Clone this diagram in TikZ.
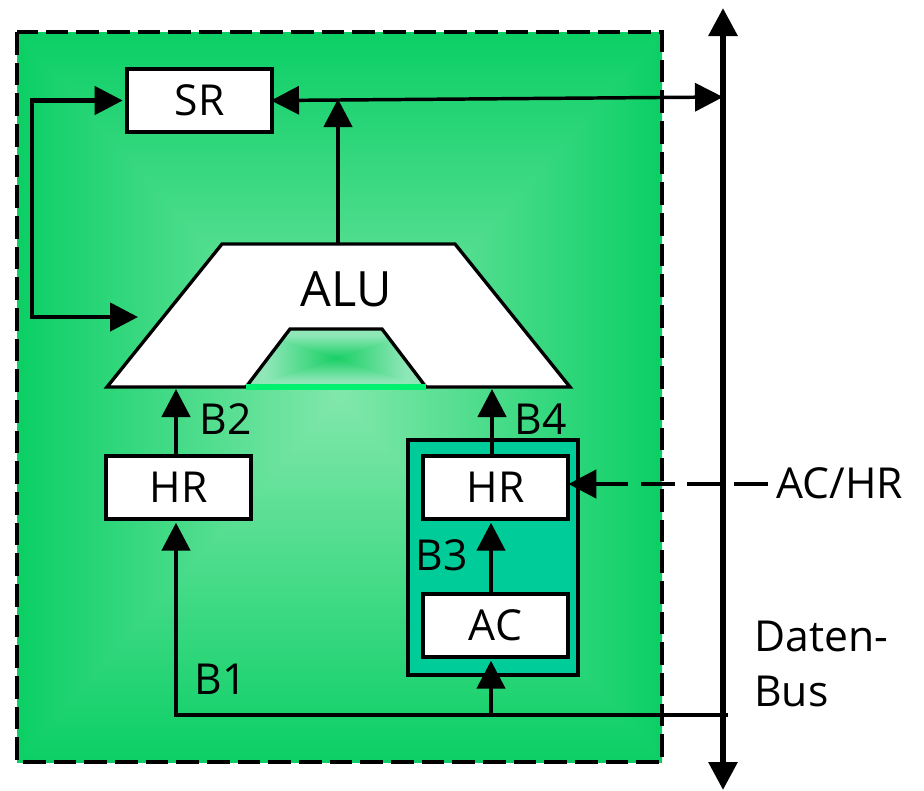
\documentclass[tikz,border=0pt]{standalone}
\usepackage{fontspec}
\setmainfont{Open Sans}
\usetikzlibrary{arrows.meta}
\definecolor{tealfill}{RGB}{0,204,153}
\definecolor{brightline}{RGB}{0,240,112}
\pgfdeclarefunctionalshading{panelgrad}{\pgfpoint{-50bp}{-50bp}}{\pgfpoint{50bp}{50bp}}{}{
  abs 25 div exch abs 25 div
  2 copy lt {exch} if pop
  dup 1 gt {pop 1} if
  dup dup
  -118 mul 129 add 255 div 3 1 roll
  -24 mul 231 add 255 div exch
  -70 mul 171 add 255 div
}
\pgfdeclarefunctionalshading{notchgrad}{\pgfpoint{-50bp}{-50bp}}{\pgfpoint{50bp}{50bp}}{}{
  abs 19.6 div exch abs 19.6 div
  2 copy lt {exch} if pop
  dup 1 gt {pop 1} if
  dup dup
  118 mul 25 add 255 div 3 1 roll
  24 mul 207 add 255 div exch
  84 mul 100 add 255 div
}
\tikzset{
  x=0.75pt,y=-0.75pt,
  regbox/.style={draw=black,fill=white,line width=2.5pt,minimum width=108.75pt,minimum height=47.25pt,inner sep=0pt,font=\fontsize{32}{32}\selectfont},
  lbl/.style={font=\fontsize{32}{41}\selectfont,inner sep=0pt,text=black},
  wire/.style={line width=3.4pt,draw=black},
  tip/.style={wire,-{Triangle[length=21pt,width=21pt]}},
  tiptwo/.style={wire,{Triangle[length=21pt,width=21pt]}-{Triangle[length=21pt,width=21pt]}},
  shapeline/.style={draw=black,line width=2.5pt,line join=miter}
}
\begin{document}
\begin{tikzpicture}
\useasboundingbox (0,0) rectangle (924,790);
% panel
\shade[shading=panelgrad] (17,32) rectangle (662,762);
\draw[line width=2.3pt,dash pattern=on 17pt off 6pt] (17,32) rectangle (662,762);
% teal box
\draw[draw=black,fill=tealfill,line width=2.6pt] (408,440) rectangle (578,675);
% ALU
\fill[white] (107,387) -- (222,244) -- (455,244) -- (570,387) -- (426,387) -- (382,329) -- (290,329) -- (246,387) -- cycle;
\shade[shading=notchgrad] (246,387) -- (290,329) -- (382,329) -- (426,387) -- cycle;
\draw[shapeline] (246,387) -- (107,387) -- (222,244) -- (455,244) -- (570,387) -- (426,387) -- (382,329) -- (290,329) -- cycle;
\draw[line width=4pt,draw=brightline] (246,387) -- (426,387);
\node[inner sep=0pt,font=\fontsize{36.5}{36.5}\selectfont] (alu) at (346,289) {ALU};
% registers
\node[regbox] (sr) at (199.5,100.5) {SR};
\node[regbox] (hrl) at (178.5,487.5) {HR};
\node[regbox] (hrr) at (495.5,487.5) {HR};
\node[regbox] (ac) at (495.5,625.5) {AC};
% reference points
\coordinate (bustop) at (723,8);
\coordinate (busbot) at (723,790);
\coordinate (aluB2) at (176,389);
\coordinate (aluB4) at (492,389);
\coordinate (alutop) at (338,244);
\coordinate (srjoin) at (338,99);
\coordinate (srbus) at (723,97);
\coordinate (fbtop) at (32,100.5);
\coordinate (fbbot) at (32,317);
\coordinate (alufb) at (138,317);
\coordinate (buspick) at (728,715);
\coordinate (b1corner) at (176,715);
\coordinate (b1join) at (491,715);
\coordinate (dashend) at (768,484);
% bus
\draw[wire,line width=4.5pt,{Triangle[length=21pt,width=21pt]}-{Triangle[length=21pt,width=21pt]}] (bustop) -- (busbot);
% connectors
\draw[tip] (hrl.north -| aluB2) -- (aluB2);
\draw[tip] (hrr.north -| aluB4) -- (aluB4);
\draw[tip] (alutop) -- (srjoin);
\draw[tiptwo,line width=2.6pt,shorten <=-2pt,shorten >=0pt] (sr.east) -- (srbus);
\draw[wire,{Triangle[length=21pt,width=21pt]}-{Triangle[length=21pt,width=21pt]},shorten <=2pt] (sr.west) -- (fbtop) -- (fbbot) -- (alufb);
\draw[wire,-{Triangle[length=21pt,width=21pt]},shorten >=1.5pt] (buspick) -- (b1corner) -- (hrl.south -| b1corner);
\draw[tip,shorten >=1.5pt] (b1join) -- (ac.south -| b1join);
\draw[tip,shorten >=1.5pt] (ac.north -| b1join) -- (hrr.south -| b1join);
\draw[wire,-{Triangle[length=21pt,width=21pt]},dash pattern=on 25.5pt off 9.4pt,shorten >=-1pt] (dashend) -- (hrr.east |- dashend);
% labels
\node[lbl] (b2) at (226,419) {B2};
\node[lbl] (b4) at (541,419) {B4};
\node[lbl] (b3) at (442,555) {B3};
\node[lbl] (b1) at (221,679) {B1};
\node[lbl,anchor=west] (achr) at (776,483) {AC/HR};
\node[lbl,anchor=north west,align=left] (bus) at (754,621) {Daten-\\Bus};
\end{tikzpicture}
\end{document}
